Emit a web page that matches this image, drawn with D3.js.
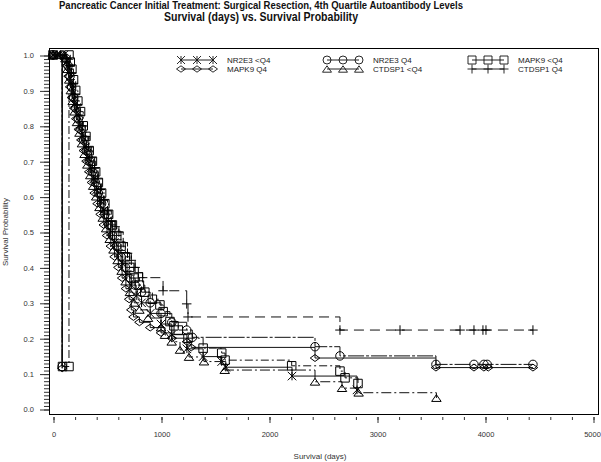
<!DOCTYPE html>
<html>
<head>
<meta charset="utf-8">
<script src="https://cdn.jsdelivr.net/npm/d3@7"></script>
<style>
  body { margin: 0; background: #fff; }
  svg { display: block; font-family: "Liberation Sans", Arial, sans-serif; }
</style>
</head>
<body>
<svg width="601" height="462"></svg>
<script>
// survival curves, [day, survival probability]
const nr2e3Low = [[0,1],[40,1],[100,1],[125,0.98],[145,0.95],[162,0.92],[180,0.89],[200,0.86],[222,0.83],[245,0.80],[270,0.77],[295,0.74],[322,0.71],[350,0.68],[378,0.65],[405,0.62],[435,0.59],[465,0.56],[498,0.53],[532,0.50],[568,0.47],[605,0.44],[645,0.41],[685,0.38],[725,0.35],[770,0.32],[820,0.30],[900,0.27],[1000,0.24],[1100,0.21],[1240,0.17],[1390,0.148],[1562,0.134],[1600,0.118],[2213,0.093],[2815,0.054]];

const nr2e3Q4 = [[0,1],[85,0.12],[85,1],[120,0.99],[140,0.97],[158,0.94],[172,0.91],[190,0.88],[212,0.85],[235,0.82],[260,0.79],[285,0.76],[310,0.73],[338,0.70],[365,0.67],[392,0.64],[420,0.61],[450,0.58],[480,0.55],[515,0.52],[550,0.49],[590,0.46],[630,0.43],[670,0.40],[710,0.37],[760,0.35],[820,0.33],[900,0.30],[1000,0.27],[1100,0.245],[1238,0.223],[1290,0.2025],[2426,0.176],[2657,0.15],[3546,0.126],[3898,0.126],[3990,0.126],[4020,0.126],[4444,0.126]];

const mapk9Low = [[0,1],[88,0.12],[148,0.12],[148,1],[160,0.98],[175,0.96],[190,0.93],[210,0.90],[230,0.87],[255,0.84],[280,0.80],[305,0.77],[335,0.73],[365,0.70],[395,0.67],[420,0.64],[450,0.61],[480,0.58],[515,0.55],[550,0.52],[590,0.49],[630,0.46],[670,0.43],[710,0.40],[750,0.37],[800,0.35],[850,0.33],[920,0.31],[990,0.294],[1020,0.275],[1083,0.247],[1120,0.235],[1160,0.223],[1250,0.2],[1390,0.172],[1562,0.158],[1593,0.138],[2210,0.122],[2657,0.107],[2704,0.088],[2824,0.072]];

const mapk9Q4 = [[0,1],[85,0.115],[85,1],[110,0.99],[128,0.97],[143,0.94],[158,0.91],[175,0.88],[195,0.85],[215,0.82],[238,0.79],[262,0.76],[285,0.73],[310,0.70],[335,0.67],[360,0.64],[385,0.61],[412,0.58],[440,0.55],[470,0.52],[500,0.49],[535,0.46],[570,0.43],[605,0.40],[640,0.37],[675,0.34],[705,0.31],[725,0.28],[745,0.26],[800,0.245],[900,0.23],[1000,0.215],[1100,0.2],[1240,0.19],[1280,0.174],[2426,0.144],[3546,0.117],[3898,0.117],[3990,0.117],[4030,0.117],[4444,0.117]];

const ctdsp1Low = [[0,1],[60,1],[115,0.99],[135,0.96],[150,0.93],[165,0.90],[182,0.87],[200,0.84],[222,0.81],[245,0.78],[268,0.75],[292,0.72],[318,0.69],[345,0.66],[372,0.63],[400,0.60],[430,0.57],[460,0.54],[492,0.51],[525,0.48],[560,0.45],[598,0.42],[635,0.39],[672,0.36],[712,0.33],[752,0.30],[800,0.28],[880,0.257],[1000,0.23],[1037,0.209],[1099,0.19],[1176,0.167],[1259,0.147],[1398,0.134],[1590,0.11],[2426,0.077],[2676,0.059],[2830,0.046],[3550,0.031]];

const ctdsp1Q4 = [[0,1],[70,1],[130,0.99],[155,0.97],[172,0.95],[188,0.92],[205,0.89],[225,0.86],[250,0.83],[275,0.80],[300,0.77],[328,0.74],[355,0.71],[385,0.68],[415,0.65],[440,0.62],[470,0.59],[505,0.56],[540,0.53],[575,0.515],[610,0.50],[650,0.47],[690,0.44],[725,0.42],[760,0.40],[790,0.385],[830,0.371],[1019,0.334],[1238,0.297],[1250,0.26],[2657,0.223],[3213,0.223],[3769,0.223],[3898,0.223],[3981,0.223],[4009,0.223],[4444,0.223]];

const seriesNames = ["NR2E3 <Q4", "NR2E3 Q4", "MAPK9 <Q4", "MAPK9 Q4", "CTDSP1 <Q4", "CTDSP1 Q4"];
const xTicks = [0, 1000, 2000, 3000, 4000, 5000];
const yTicks = [0.0, 0.1, 0.2, 0.3, 0.4, 0.5, 0.6, 0.7, 0.8, 0.9, 1.0];

const STYLE = {
    "NR2E3 <Q4": {shape: "asterisk", dash: null},
    "NR2E3 Q4": {shape: "circle", dash: "16,2,3,2"},
    "MAPK9 <Q4": {shape: "square", dash: "8,3,2,3"},
    "MAPK9 Q4": {shape: "diamond", dash: null},
    "CTDSP1 <Q4": {shape: "triangle", dash: "10,3,2,3"},
    "CTDSP1 Q4": {shape: "plus", dash: "10,6"},
}

const dataList = [nr2e3Low, nr2e3Q4, mapk9Low, mapk9Q4, ctdsp1Low, ctdsp1Q4];

function markerPath(shape, s) {
    const h = s / 2;
    switch (shape) {
        case "asterisk":
            return `M${-h},${-h}L${h},${h}M${-h},${h}L${h},${-h}M0,${-h}L0,${h}`;
        case "circle":
            return `M${h},0A${h},${h} 0 1,1 ${-h},0A${h},${h} 0 1,1 ${h},0Z`;
        case "square":
            return `M${-h},${-h}H${h}V${h}H${-h}Z`;
        case "diamond":
            return `M${-h - 0.5},0L0,${-h + 0.8}L${h + 0.5},0L0,${h - 0.8}Z`;
        case "triangle":
            return `M${-h - 0.5},${h * 0.8}L0,${-h * 0.8}L${h + 0.5},${h * 0.8}Z`;
        case "plus":
            return `M${-h - 0.5},0H${h + 0.5}M0,${-h - 0.5}V${h + 0.5}`;
    }
}

const svg = d3.select("svg");
svg.append("rect").attr("width", 601).attr("height", 462).attr("fill", "#fff");

const area = {left: 49, top: 48, right: 598, bottom: 414};

const scX = d3.scaleLinear().domain([0, 5000]).range([53, 593]);
const scY = d3.scaleLinear().domain([0, 1]).range([409, 55]);

// titles
svg.append("text")
    .attr("x", 261).attr("y", 9)
    .attr("text-anchor", "middle")
    .attr("font-size", 11).attr("font-weight", "bold")
    .attr("textLength", 404).attr("lengthAdjust", "spacingAndGlyphs")
    .attr("fill", "#111")
    .text("Pancreatic Cancer Initial Treatment: Surgical Resection, 4th Quartile Autoantibody Levels");
svg.append("text")
    .attr("x", 261).attr("y", 21)
    .attr("text-anchor", "middle")
    .attr("font-size", 12).attr("font-weight", "bold")
    .attr("textLength", 194).attr("lengthAdjust", "spacingAndGlyphs")
    .attr("fill", "#111")
    .text("Survival (days) vs. Survival Probability");

// frame
svg.append("rect")
    .attr("x", area.left + 0.5).attr("y", area.top + 0.5)
    .attr("width", area.right - area.left).attr("height", area.bottom - area.top)
    .attr("fill", "none").attr("stroke", "#000").attr("stroke-width", 1);

// x axis
const gx = svg.append("g")
    .attr("transform", `translate(0.5, 417)`)
    .call(d3.axisBottom(scX).tickValues(d3.range(0, 5001, 200)).tickSize(3).tickFormat(""));
gx.select(".domain").remove();
const gx2 = svg.append("g")
    .attr("transform", `translate(0.5, 417)`)
    .call(d3.axisBottom(scX).tickValues(xTicks).tickSize(6).tickPadding(9).tickFormat(d3.format("d")));
gx2.select(".domain").remove();
gx2.selectAll(".tick text").filter(d => d === 5000).attr("dx", -1.5);

// y axis
const gy = svg.append("g")
    .attr("transform", `translate(${area.left}, 0.5)`)
    .call(d3.axisLeft(scY).tickValues(d3.range(0, 101).map(d => d / 100)).tickSize(5).tickFormat(""));
gy.select(".domain").remove();
const gy2 = svg.append("g")
    .attr("transform", `translate(${area.left}, 0.5)`)
    .call(d3.axisLeft(scY).tickValues(yTicks).tickSize(9).tickPadding(6).tickFormat(d3.format(".1f")));
gy2.select(".domain").remove();

svg.selectAll(".tick line").attr("stroke", "#333");
svg.selectAll(".tick text").attr("font-size", 7.5).attr("fill", "#333")
    .attr("font-family", "'Liberation Sans', Arial, sans-serif");

// axis titles
svg.append("text")
    .attr("x", 320).attr("y", 459)
    .attr("text-anchor", "middle").attr("font-size", 8).attr("fill", "#333")
    .text("Survival (days)");
svg.append("text")
    .attr("transform", "translate(8, 232) rotate(-90)")
    .attr("text-anchor", "middle").attr("font-size", 8).attr("fill", "#333")
    .text("Survival Probability");

// curves
const line = d3.line()
    .x(d => scX(d[0]))
    .y(d => scY(d[1]))
    .curve(d3.curveStepAfter);

seriesNames.forEach((name, i) => {
    const data = dataList[i];
    const st = STYLE[name];
    svg.append("path")
        .attr("d", line(data))
        .attr("fill", "none")
        .attr("stroke", "#111")
        .attr("stroke-width", 1)
        .attr("stroke-dasharray", st.dash);

    svg.selectAll(".m" + i)
        .data(data)
        .enter()
        .append("path")
        .attr("class", "m" + i)
        .attr("d", markerPath(st.shape, 8.5))
        .attr("transform", d => `translate(${scX(d[0])}, ${scY(d[1])})`)
        .attr("fill", "none")
        .attr("stroke", "#000")
        .attr("stroke-width", 1);
});

// legend
const legCols = [181, 327, 472];
const legRows = [60, 69];
seriesNames.forEach((name, i) => {
    const cx = legCols[i % 3];
    const cy = legRows[Math.floor(i / 3)];
    const st = STYLE[name];
    svg.append("line")
        .attr("x1", cx).attr("x2", cx + 32)
        .attr("y1", cy).attr("y2", cy)
        .attr("stroke", "#222");
    [0, 16, 32].forEach(dx => {
        svg.append("path")
            .attr("d", markerPath(st.shape, 8))
            .attr("transform", `translate(${cx + dx}, ${cy})`)
            .attr("fill", "none")
            .attr("stroke", "#111")
            .attr("stroke-width", 0.9);
    });
    svg.append("text")
        .attr("x", cx + 46).attr("y", cy + 3)
        .attr("font-size", 8).attr("fill", "#222")
        .text(name);
});
</script>
</body>
</html>
